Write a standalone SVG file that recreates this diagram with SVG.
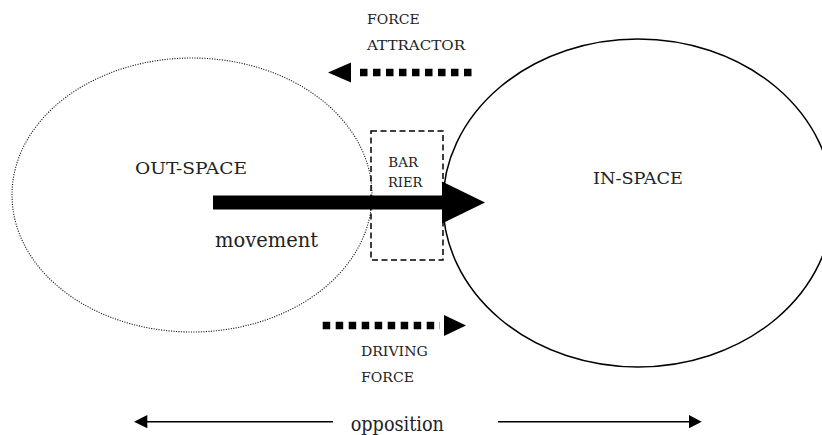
<svg xmlns="http://www.w3.org/2000/svg" width="822" height="435" viewBox="0 0 822 435">
<style>
text{fill:#222;font-family:"DejaVu Serif","Liberation Serif",serif}
.cap{font-size:17px}
.sm{font-size:13.5px}
.bar{font-size:12.5px}
.big{font-size:20px}
.dots{stroke:#000;stroke-width:7.5;stroke-dasharray:7.5 5.5;fill:none}
.thin{stroke:#000;stroke-width:1.4;fill:none}
.head{fill:#000}
</style>
<rect width="822" height="435" fill="#fff"/>
<g id="out-space">
<ellipse cx="192" cy="195" rx="180" ry="137" fill="none" stroke="#111" stroke-width="1.1" stroke-dasharray="1.1 1.4"/>
<text class="cap" x="135" y="174.3" textLength="112" lengthAdjust="spacingAndGlyphs">OUT-SPACE</text>
</g>
<g id="in-space">
<ellipse cx="638" cy="203" rx="195" ry="164" fill="none" stroke="#000" stroke-width="1.5"/>
<text class="cap" x="593" y="184.3" textLength="90" lengthAdjust="spacingAndGlyphs">IN-SPACE</text>
</g>
<g id="barrier">
<rect x="371" y="131" width="72" height="129" fill="none" stroke="#000" stroke-width="1.5" stroke-dasharray="6 3.5"/>
<text class="bar" x="388.3" y="167.3" textLength="29.7" lengthAdjust="spacingAndGlyphs">BAR</text>
<text class="bar" x="388" y="186.7" textLength="34.5" lengthAdjust="spacingAndGlyphs">RIER</text>
</g>
<g id="connectors">
<g id="movement">
<rect x="213" y="195.5" width="230" height="14" fill="#000"/>
<polygon class="head" points="442,181.5 485,202.5 442,223.5"/>
</g>
<g id="attractor">
<line class="dots" x1="360" y1="72.5" x2="472" y2="72.5"/>
<polygon class="head" points="328,72.5 351,62.5 351,82.5"/>
</g>
<g id="driving">
<line class="dots" x1="322.7" y1="325.5" x2="440" y2="325.5"/>
<polygon class="head" points="466,325.5 444,315 444,336"/>
</g>
<g id="opposition-arrows">
<line class="thin" x1="333" y1="421.7" x2="146" y2="421.7"/>
<polygon class="head" points="134,421.7 147.3,415 147.3,428.3"/>
<line class="thin" x1="498" y1="421.7" x2="690" y2="421.7"/>
<polygon class="head" points="701.7,421.7 689,415 689,428.3"/>
</g>
</g>
<g id="labels">
<text class="sm" x="367" y="24" textLength="52.7" lengthAdjust="spacingAndGlyphs">FORCE</text>
<text class="sm" x="367" y="50" textLength="98" lengthAdjust="spacingAndGlyphs">ATTRACTOR</text>
<text class="sm" x="361" y="356" textLength="66.7" lengthAdjust="spacingAndGlyphs">DRIVING</text>
<text class="sm" x="361" y="381.7" textLength="53" lengthAdjust="spacingAndGlyphs">FORCE</text>
<text class="big" x="215" y="246.7" textLength="103" lengthAdjust="spacingAndGlyphs">movement</text>
<text class="big" x="350.7" y="431" textLength="93.3" lengthAdjust="spacingAndGlyphs">opposition</text>
</g>
</svg>
